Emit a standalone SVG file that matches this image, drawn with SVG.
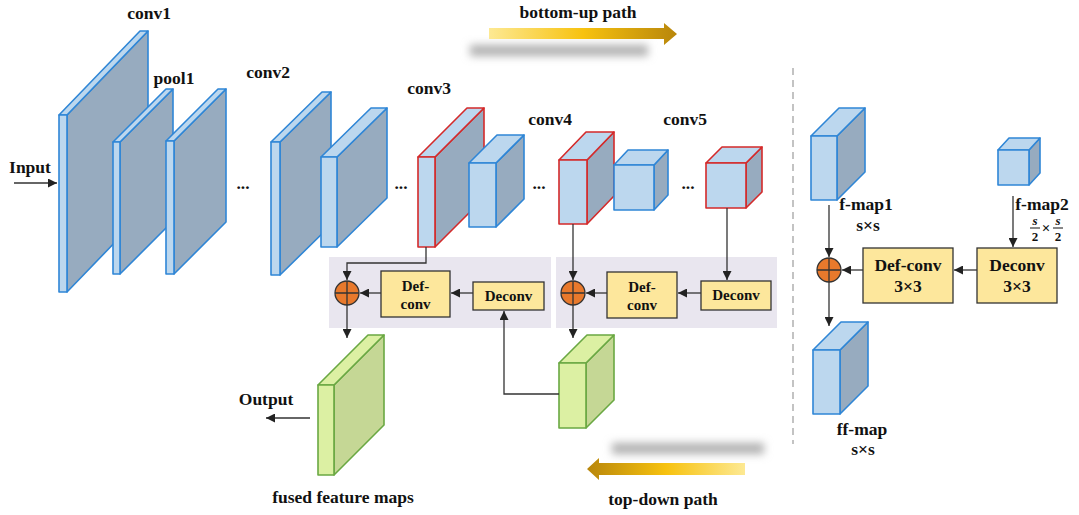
<svg xmlns="http://www.w3.org/2000/svg" width="1079" height="515" viewBox="0 0 1079 515">
<defs>
<style>
.t{font-family:"Liberation Serif","Times New Roman",serif;font-weight:bold;fill:#111;}
.lbl{font-size:17.5px;}
.bx{font-size:15px;}
.bx2{font-size:17.5px;}
.fb{fill:#bcd7ee;stroke:#2f86d6;stroke-width:1.6;stroke-linejoin:round;}
.sb{fill:#97abbf;stroke:#2f86d6;stroke-width:1.6;stroke-linejoin:round;}
.fr{fill:#bcd7ee;stroke:#d42a2a;stroke-width:1.6;stroke-linejoin:round;}
.sr{fill:#97abbf;stroke:#d42a2a;stroke-width:1.6;stroke-linejoin:round;}
.fg{fill:#dcf0a3;stroke:#6aa843;stroke-width:1.6;stroke-linejoin:round;}
.sg{fill:#c5d795;stroke:#6aa843;stroke-width:1.6;stroke-linejoin:round;}
.panel{fill:#e9e6ef;}
.yb{fill:#fde79c;stroke:#333;stroke-width:1.3;}
.ln{fill:none;stroke:#333;stroke-width:1.3;}
.ar{fill:none;stroke:#333;stroke-width:1.3;marker-end:url(#ah);}
.pl{fill:#e8792c;stroke:#333;stroke-width:1.3;}
</style>
<marker id="ah" viewBox="0 0 10 10" refX="10" refY="5" markerUnits="userSpaceOnUse" markerWidth="9" markerHeight="9" orient="auto">
<path d="M0,0 L10,5 L0,10 z" fill="#222"/>
</marker>
<linearGradient id="gr" x1="0" y1="0" x2="1" y2="0">
<stop offset="0" stop-color="#fde993"/>
<stop offset="0.5" stop-color="#f7c20f"/>
<stop offset="1" stop-color="#b8860b"/>
</linearGradient>
<linearGradient id="gl" x1="1" y1="0" x2="0" y2="0">
<stop offset="0" stop-color="#fde993"/>
<stop offset="0.5" stop-color="#f7c20f"/>
<stop offset="1" stop-color="#b8860b"/>
</linearGradient>
<filter id="blur" x="-20%" y="-100%" width="140%" height="300%">
<feGaussianBlur stdDeviation="4"/>
</filter>
</defs>
<rect width="1079" height="515" fill="#ffffff"/>

<!-- path arrows -->
<g id="bottom-up">
<rect x="470" y="45" width="178" height="11" fill="#b0b0b0" filter="url(#blur)"/>
<path d="M489,28 H664 V23 L677,34 L664,45 V39 H489 Z" fill="url(#gr)"/>
<text class="t lbl" x="578" y="18" text-anchor="middle">bottom-up path</text>
</g>
<g id="top-down">
<rect x="612" y="443" width="152" height="11" fill="#b0b0b0" filter="url(#blur)"/>
<path d="M745,463 H599 V458 L587,469 L599,480 V475 H745 Z" fill="url(#gl)"/>
<text class="t lbl" x="663" y="505" text-anchor="middle">top-down path</text>
</g>

<!-- panels -->
<g id="panels">
<rect class="panel" x="329" y="257" width="222" height="71"/>
<rect class="panel" x="556" y="257" width="221" height="71"/>
</g>

<!-- divider -->
<line x1="793" y1="68" x2="793" y2="444" stroke="#b5b5b5" stroke-width="1.6" stroke-dasharray="7,5"/>

<!-- layers -->
<g id="conv1">
<polygon class="sb" points="67,115 148,31 148,208 67,292"/>
<polygon class="fb" points="59,115 67,115 148,31 140,31"/>
<rect class="fb" x="59" y="115" width="8" height="177"/>
<text class="t lbl" x="149" y="19" text-anchor="middle">conv1</text>
</g>
<g id="pool1">
<polygon class="sb" points="120,142 173,89 173,221 120,274"/>
<polygon class="fb" points="113,142 120,142 173,89 166,89"/>
<rect class="fb" x="113" y="142" width="7" height="132"/>
<text class="t lbl" x="174" y="84" text-anchor="middle">pool1</text>
</g>
<g id="slab3">
<polygon class="sb" points="174,141 226,89 226,222 174,274"/>
<polygon class="fb" points="166,141 174,141 226,89 218,89"/>
<rect class="fb" x="166" y="141" width="8" height="133"/>
</g>
<text class="t lbl" x="243" y="189" text-anchor="middle">...</text>
<g id="conv2">
<polygon class="sb" points="280,142 331,92 331,225 280,275"/>
<polygon class="fb" points="271,142 280,142 331,92 322,92"/>
<rect class="fb" x="271" y="142" width="9" height="133"/>
<text class="t lbl" x="268" y="78" text-anchor="middle">conv2</text>
</g>
<g id="conv2b">
<polygon class="sb" points="337,157 387,108 387,198 337,247"/>
<polygon class="fb" points="321,157 337,157 387,108 371,108"/>
<rect class="fb" x="321" y="157" width="16" height="90"/>
</g>
<text class="t lbl" x="401" y="189" text-anchor="middle">...</text>
<g id="conv3">
<polygon class="sr" points="435,157 484,108 484,198 435,247"/>
<polygon class="fr" points="418,157 435,157 484,108 467,108"/>
<rect class="fr" x="418" y="157" width="17" height="90"/>
<text class="t lbl" x="429" y="94" text-anchor="middle">conv3</text>
</g>
<g id="conv3b">
<polygon class="sb" points="496,163 524,135 524,199 496,227"/>
<polygon class="fb" points="469,163 496,163 524,135 497,135"/>
<rect class="fb" x="469" y="163" width="27" height="64"/>
</g>
<text class="t lbl" x="539" y="189" text-anchor="middle">...</text>
<g id="conv4">
<polygon class="sr" points="587,160 614,132 614,196 587,224"/>
<polygon class="fr" points="559,160 587,160 614,132 586,132"/>
<rect class="fr" x="559" y="160" width="28" height="64"/>
<text class="t lbl" x="550" y="125" text-anchor="middle">conv4</text>
</g>
<g id="conv4b">
<polygon class="sb" points="654,165 668,150 668,195 654,210"/>
<polygon class="fb" points="614,165 654,165 668,150 628,150"/>
<rect class="fb" x="614" y="165" width="40" height="45"/>
</g>
<text class="t lbl" x="688" y="189" text-anchor="middle">...</text>
<g id="conv5">
<polygon class="sr" points="746,163 762,147 762,192 746,208"/>
<polygon class="fr" points="706,163 746,163 762,147 722,147"/>
<rect class="fr" x="706" y="163" width="40" height="45"/>
<text class="t lbl" x="685" y="125" text-anchor="middle">conv5</text>
</g>

<!-- fused maps -->
<g id="fused">
<polygon class="sg" points="334,385 384,335 384,425 334,475"/>
<polygon class="fg" points="318,385 334,385 384,335 368,335"/>
<rect class="fg" x="318" y="385" width="16" height="90"/>
<text class="t lbl" x="343" y="503" text-anchor="middle">fused feature maps</text>
</g>
<g id="fused2">
<polygon class="sg" points="586,363 614,335 614,400 586,428"/>
<polygon class="fg" points="559,363 586,363 614,335 587,335"/>
<rect class="fg" x="559" y="363" width="27" height="65"/>
</g>

<!-- fusion blocks -->
<g id="add1">
<circle class="pl" cx="347" cy="293" r="12"/>
<path class="ln" d="M335,293 H359 M347,281 V305"/>
</g>
<g id="defconv1">
<rect class="yb" x="381" y="271" width="69" height="46"/>
<text class="t bx" x="415.5" y="291" text-anchor="middle">Def-</text>
<text class="t bx" x="415.5" y="309" text-anchor="middle">conv</text>
</g>
<g id="deconv1">
<rect class="yb" x="473" y="282" width="71" height="28"/>
<text class="t bx" x="508.5" y="301" text-anchor="middle">Deconv</text>
</g>
<g id="add2">
<circle class="pl" cx="573" cy="293" r="12"/>
<path class="ln" d="M561,293 H585 M573,281 V305"/>
</g>
<g id="defconv2">
<rect class="yb" x="607" y="272" width="70" height="46"/>
<text class="t bx" x="642" y="292" text-anchor="middle">Def-</text>
<text class="t bx" x="642" y="310" text-anchor="middle">conv</text>
</g>
<g id="deconv2">
<rect class="yb" x="701" y="281" width="70" height="29"/>
<text class="t bx" x="736" y="300" text-anchor="middle">Deconv</text>
</g>

<!-- right panel -->
<g id="fmap1">
<polygon class="sb" points="837,136 865,108 865,172 837,200"/>
<polygon class="fb" points="811,136 837,136 865,108 839,108"/>
<rect class="fb" x="811" y="136" width="26" height="64"/>
<text class="t lbl" x="866" y="210" text-anchor="middle">f-map1</text>
<text class="t lbl" x="868" y="231" text-anchor="middle">s×s</text>
</g>
<g id="fmap2">
<polygon class="sb" points="1029,150 1040,138 1040,173 1029,185"/>
<polygon class="fb" points="998,150 1029,150 1040,138 1009,138"/>
<rect class="fb" x="998" y="150" width="31" height="35"/>
<text class="t lbl" x="1042" y="210" text-anchor="middle">f-map2</text>
<text class="t" font-size="13" font-style="italic" x="1035" y="225" text-anchor="middle">s</text>
<line x1="1030" y1="228" x2="1040" y2="228" stroke="#111" stroke-width="1"/>
<text class="t" font-size="13" x="1035" y="241" text-anchor="middle">2</text>
<text class="t" font-size="15" x="1046" y="233" text-anchor="middle">×</text>
<text class="t" font-size="13" font-style="italic" x="1058" y="225" text-anchor="middle">s</text>
<line x1="1053" y1="228" x2="1063" y2="228" stroke="#111" stroke-width="1"/>
<text class="t" font-size="13" x="1058" y="241" text-anchor="middle">2</text>
</g>
<g id="add3">
<circle class="pl" cx="829" cy="270" r="12"/>
<path class="ln" d="M817,270 H841 M829,258 V282"/>
</g>
<g id="defconv3">
<rect class="yb" x="863" y="248" width="90" height="55"/>
<text class="t bx2" x="908" y="271" text-anchor="middle">Def-conv</text>
<text class="t bx2" x="908" y="292" text-anchor="middle">3×3</text>
</g>
<g id="deconv3">
<rect class="yb" x="977" y="248" width="80" height="55"/>
<text class="t bx2" x="1017" y="271" text-anchor="middle">Deconv</text>
<text class="t bx2" x="1017" y="292" text-anchor="middle">3×3</text>
</g>
<g id="ffmap">
<polygon class="sb" points="840,350 868,322 868,386 840,414"/>
<polygon class="fb" points="813,350 840,350 868,322 841,322"/>
<rect class="fb" x="813" y="350" width="27" height="64"/>
<text class="t lbl" x="862" y="435" text-anchor="middle">ff-map</text>
<text class="t lbl" x="863" y="455" text-anchor="middle">s×s</text>
</g>

<!-- io labels -->
<g id="input">
<text class="t lbl" x="30" y="173" text-anchor="middle">Input</text>
</g>
<g id="output">
<text class="t lbl" x="266" y="405" text-anchor="middle">Output</text>
</g>

<!-- connectors -->
<g id="connectors">
<path class="ar" d="M14,183 H57"/>
<path class="ar" d="M426,247 V263 H347 V280"/>
<path class="ar" d="M473,293 H451"/>
<path class="ar" d="M381,293 H360"/>
<path class="ar" d="M347,305 V338"/>
<path class="ar" d="M559,394 H504 V311"/>
<path class="ar" d="M573,224 V280"/>
<path class="ar" d="M727,208 V280"/>
<path class="ar" d="M701,293 H678"/>
<path class="ar" d="M607,293 H586"/>
<path class="ar" d="M573,305 V338"/>
<path class="ar" d="M310,418 H266"/>
<path class="ar" d="M829,205 V257"/>
<path class="ar" d="M977,270 H954"/>
<path class="ar" d="M863,270 H842"/>
<path class="ar" d="M829,282 V326"/>
<path class="ar" d="M1013,196 V247"/>
</g>
</svg>
